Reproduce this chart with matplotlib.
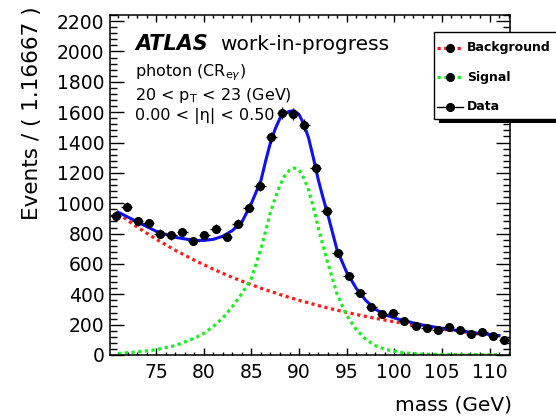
import matplotlib
matplotlib.use('Agg')
import matplotlib.pyplot as plt
import numpy as np
from matplotlib.patches import Rectangle
from matplotlib.lines import Line2D
from matplotlib.ticker import MultipleLocator

W, H = 556, 420

# data points (bin centres, 36 bins of 1.16667 GeV)
mass = [70.73, 71.90, 73.07, 74.23, 75.40, 76.57, 77.73, 78.90, 80.07, 81.23,
        82.40, 83.57, 84.73, 85.90, 87.07, 88.23, 89.40, 90.57, 91.73, 92.90,
        94.07, 95.23, 96.40, 97.57, 98.73, 99.90, 101.07, 102.23, 103.40, 104.57,
        105.73, 106.90, 108.07, 109.23, 110.40, 111.57]
events = [919, 978, 882, 869, 799, 788, 810, 749, 788, 832,
          777, 865, 970, 1116, 1434, 1594, 1587, 1517, 1233, 952,
          674, 521, 409, 313, 269, 278, 225, 193, 175, 164,
          186, 164, 136, 149, 125, 99]

# fit curves
curve_mass = [71, 73, 75, 77, 79, 80, 81, 82, 83, 84, 85, 86, 86.5, 87, 87.5,
              88, 88.5, 89, 89.5, 90, 90.5, 91, 91.5, 92, 92.5, 93, 94, 95, 96,
              97, 98, 99, 100, 101, 103, 105, 107, 109, 111]
background = [932, 843, 763, 690, 625, 595, 565, 538, 511, 487, 463, 440, 430,
              419, 409, 398, 389, 379, 370, 360, 352, 343, 335, 326, 318, 310,
              295, 281, 267, 254, 242, 230, 219, 208, 188, 170, 154, 139, 126]
signal = [10, 20, 35, 62, 110, 142, 188, 245, 318, 405, 505, 700, 820, 940,
          1035, 1120, 1180, 1218, 1232, 1220, 1165, 1088, 975, 845, 725, 610,
          400, 262, 168, 104, 62, 38, 24, 14, 6, 4, 3, 2, 2]
total = [941, 878, 815, 775, 755, 755, 762, 783, 820, 876, 1000, 1150, 1280,
         1400, 1490, 1560, 1592, 1606, 1609, 1584, 1522, 1430, 1300, 1160,
         1040, 930, 690, 545, 440, 360, 302, 266, 244, 226, 197, 176, 158, 142,
         128]

fig = plt.figure(figsize=(W / 100, H / 100), dpi=100)
ax = fig.add_axes([110 / W, 1 - 355 / H, 400 / W, 340 / H])

ax.plot(curve_mass, background, color='#ff1a1a', lw=2.3, ls=(0, (1, 1.1)), zorder=2)
ax.plot(curve_mass, signal, color='#1aee1a', lw=2.3, ls=(0, (1, 1.1)), zorder=2)
ax.plot(curve_mass, total, color='#1010f0', lw=2.2, zorder=3, solid_joinstyle='round')
ax.errorbar(mass, events, xerr=0.583, yerr=np.sqrt(events), fmt='o', color='black',
            ms=5.5, elinewidth=1, capsize=0, zorder=4)

ax.set_xlim(70.15, 112.15)
ax.set_ylim(0, 2240)
ax.xaxis.set_major_locator(MultipleLocator(5))
ax.xaxis.set_minor_locator(MultipleLocator(1))
ax.yaxis.set_major_locator(MultipleLocator(200))
ax.yaxis.set_minor_locator(MultipleLocator(40))
ax.set_xticks([75, 80, 85, 90, 95, 100, 105, 110])
ax.tick_params(which='both', direction='in', top=True, right=True, labelsize=13.5, width=1)
ax.tick_params(axis='y', which='major', length=10, pad=4)
ax.tick_params(axis='y', which='minor', length=5)
ax.tick_params(axis='x', which='major', length=5, pad=6)
ax.tick_params(axis='x', which='minor', length=2.5)
for s in ax.spines.values():
    s.set_linewidth(1.1)

fig.text(32 / W, 1 - 6 / H, 'Events / ( 1.16667 )', rotation=90, ha='center', va='top', fontsize=15.5)
fig.text(512 / W, 1 - 405 / H, 'mass (GeV)', ha='right', va='center', fontsize=14.5)

fig.text(135 / W, 1 - 50 / H, 'ATLAS', fontsize=15, fontweight='bold', style='italic', va='baseline')
fig.text(220 / W, 1 - 50 / H, 'work-in-progress', fontsize=14.5, va='baseline')
fig.text(135 / W, 1 - 76 / H, r'photon (CR$_{\mathrm{e}\gamma}$)', fontsize=11.5, va='baseline')
fig.text(135 / W, 1 - 100 / H, r'20 < p$_{\mathrm{T}}$ < 23 (GeV)', fontsize=11.5, va='baseline')
fig.text(135 / W, 1 - 120 / H, '0.00 < |η| < 0.50', fontsize=11.5, va='baseline')

# legend box with shadow
fig.add_artist(Rectangle((439 / W, 1 - 123 / H), 130 / W, 87 / H, transform=fig.transFigure,
                         fc='black', ec='none', zorder=5))
fig.add_artist(Rectangle((434 / W, 1 - 119 / H), 130 / W, 87 / H, transform=fig.transFigure,
                         fc='white', ec='black', lw=1, zorder=6))
entries = [('Background', '#ff1a1a', (0, (1, 1.1)), 2.3, 48),
           ('Signal', '#1aee1a', (0, (1, 1.1)), 2.3, 77),
           ('Data', 'black', '-', 1, 107)]
for label, col, ls, lw, y in entries:
    yf = 1 - y / H
    fig.add_artist(Line2D([437 / W, 463 / W], [yf, yf], transform=fig.transFigure,
                          color=col, ls=ls, lw=lw, zorder=7))
    fig.add_artist(Line2D([450 / W], [yf], transform=fig.transFigure, marker='o',
                          color='black', ms=5.5, zorder=8))
    fig.text(467 / W, yf, label, fontsize=9, fontweight='bold', va='center', zorder=9)

fig.savefig('out.png', dpi=100)
